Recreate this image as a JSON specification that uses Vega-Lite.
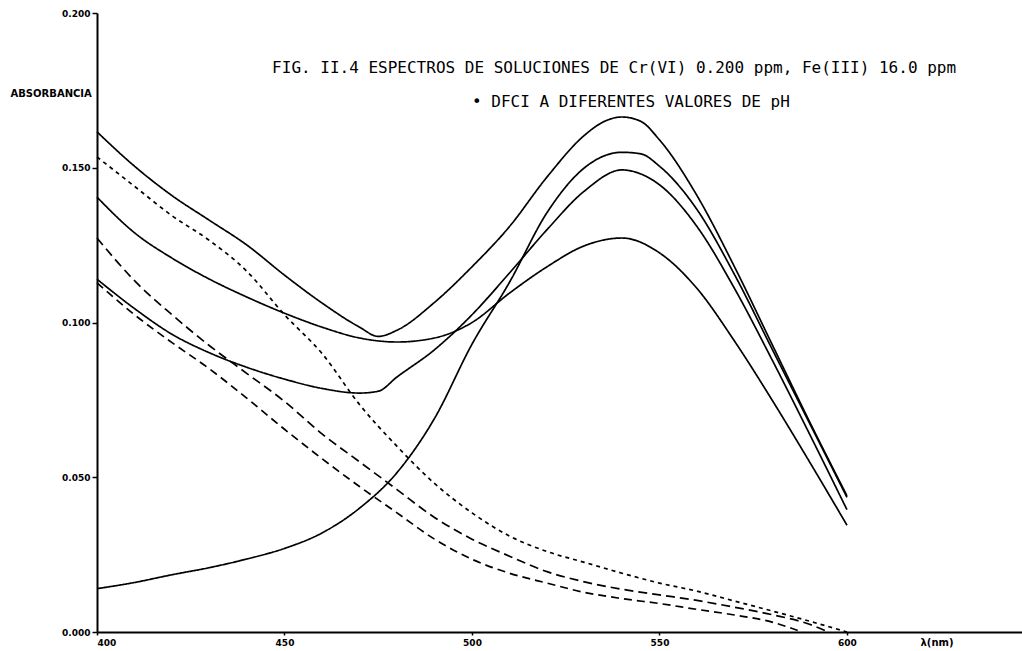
{
  "$schema": "https://vega.github.io/schema/vega-lite/v6.json",
  "width": 925,
  "height": 619,
  "autosize": {"type": "none"},
  "padding": {"left": 97, "top": 13, "right": 0, "bottom": 19},
  "background": "white",
  "config": {
    "view": {"stroke": null},
    "axis": {
      "domainColor": "black",
      "domainWidth": 2,
      "tickColor": "black",
      "tickWidth": 1.5,
      "grid": false,
      "labelFont": "DejaVu Sans",
      "labelFontWeight": "bold",
      "labelFontSize": 9,
      "labelColor": "black",
      "titleFont": "DejaVu Sans",
      "titleFontWeight": "bold",
      "titleColor": "black"
    }
  },
  "datasets": {
    "spectra": [
      {"s":"A","nm":400,"abs":0.1616},{"s":"A","nm":410,"abs":0.1505},{"s":"A","nm":420,"abs":0.1410},{"s":"A","nm":430,"abs":0.1330},{"s":"A","nm":440,"abs":0.1250},{"s":"A","nm":450,"abs":0.1153},{"s":"A","nm":460,"abs":0.1063},{"s":"A","nm":470,"abs":0.0985},{"s":"A","nm":475,"abs":0.0955},{"s":"A","nm":480,"abs":0.0975},{"s":"A","nm":490,"abs":0.1065},{"s":"A","nm":500,"abs":0.1180},{"s":"A","nm":510,"abs":0.1310},{"s":"A","nm":520,"abs":0.1470},{"s":"A","nm":530,"abs":0.1605},{"s":"A","nm":535,"abs":0.1648},{"s":"A","nm":540,"abs":0.1664},{"s":"A","nm":545,"abs":0.1650},{"s":"A","nm":550,"abs":0.1590},{"s":"A","nm":560,"abs":0.1410},{"s":"A","nm":570,"abs":0.1180},{"s":"A","nm":580,"abs":0.0930},{"s":"A","nm":590,"abs":0.0680},{"s":"A","nm":600,"abs":0.0440},
      {"s":"B","nm":400,"abs":0.1405},{"s":"B","nm":410,"abs":0.1290},{"s":"B","nm":420,"abs":0.1208},{"s":"B","nm":430,"abs":0.1140},{"s":"B","nm":440,"abs":0.1082},{"s":"B","nm":450,"abs":0.1030},{"s":"B","nm":460,"abs":0.0985},{"s":"B","nm":470,"abs":0.0950},{"s":"B","nm":480,"abs":0.0937},{"s":"B","nm":490,"abs":0.0950},{"s":"B","nm":500,"abs":0.1000},{"s":"B","nm":510,"abs":0.1095},{"s":"B","nm":520,"abs":0.1180},{"s":"B","nm":530,"abs":0.1248},{"s":"B","nm":540,"abs":0.1273},{"s":"B","nm":550,"abs":0.1225},{"s":"B","nm":560,"abs":0.1110},{"s":"B","nm":570,"abs":0.0940},{"s":"B","nm":580,"abs":0.0750},{"s":"B","nm":590,"abs":0.0550},{"s":"B","nm":600,"abs":0.0345},
      {"s":"C","nm":400,"abs":0.1140},{"s":"C","nm":410,"abs":0.1045},{"s":"C","nm":420,"abs":0.0962},{"s":"C","nm":430,"abs":0.0902},{"s":"C","nm":440,"abs":0.0855},{"s":"C","nm":450,"abs":0.0817},{"s":"C","nm":460,"abs":0.0787},{"s":"C","nm":470,"abs":0.0772},{"s":"C","nm":475,"abs":0.0778},{"s":"C","nm":480,"abs":0.0824},{"s":"C","nm":490,"abs":0.0912},{"s":"C","nm":500,"abs":0.1025},{"s":"C","nm":510,"abs":0.1160},{"s":"C","nm":520,"abs":0.1300},{"s":"C","nm":530,"abs":0.1425},{"s":"C","nm":540,"abs":0.1493},{"s":"C","nm":545,"abs":0.1480},{"s":"C","nm":550,"abs":0.1445},{"s":"C","nm":560,"abs":0.1310},{"s":"C","nm":570,"abs":0.1110},{"s":"C","nm":580,"abs":0.0880},{"s":"C","nm":590,"abs":0.0640},{"s":"C","nm":600,"abs":0.0395},
      {"s":"D","nm":400,"abs":0.0140},{"s":"D","nm":410,"abs":0.0160},{"s":"D","nm":420,"abs":0.0185},{"s":"D","nm":430,"abs":0.0208},{"s":"D","nm":440,"abs":0.0236},{"s":"D","nm":450,"abs":0.0270},{"s":"D","nm":460,"abs":0.0320},{"s":"D","nm":470,"abs":0.0400},{"s":"D","nm":480,"abs":0.0515},{"s":"D","nm":490,"abs":0.0690},{"s":"D","nm":500,"abs":0.0930},{"s":"D","nm":510,"abs":0.1130},{"s":"D","nm":520,"abs":0.1355},{"s":"D","nm":530,"abs":0.1500},{"s":"D","nm":540,"abs":0.1550},{"s":"D","nm":545,"abs":0.1545},{"s":"D","nm":550,"abs":0.1505},{"s":"D","nm":560,"abs":0.1365},{"s":"D","nm":570,"abs":0.1155},{"s":"D","nm":580,"abs":0.0915},{"s":"D","nm":590,"abs":0.0675},{"s":"D","nm":600,"abs":0.0435},
      {"s":"E","nm":400,"abs":0.1535},{"s":"E","nm":410,"abs":0.1440},{"s":"E","nm":420,"abs":0.1345},{"s":"E","nm":430,"abs":0.1265},{"s":"E","nm":440,"abs":0.1165},{"s":"E","nm":450,"abs":0.1025},{"s":"E","nm":460,"abs":0.0900},{"s":"E","nm":470,"abs":0.0735},{"s":"E","nm":480,"abs":0.0600},{"s":"E","nm":490,"abs":0.0480},{"s":"E","nm":500,"abs":0.0385},{"s":"E","nm":510,"abs":0.0310},{"s":"E","nm":520,"abs":0.0260},{"s":"E","nm":530,"abs":0.0225},{"s":"E","nm":540,"abs":0.0190},{"s":"E","nm":550,"abs":0.0158},{"s":"E","nm":560,"abs":0.0132},{"s":"E","nm":570,"abs":0.0100},{"s":"E","nm":580,"abs":0.0068},{"s":"E","nm":590,"abs":0.0035},{"s":"E","nm":600,"abs":0.0000},
      {"s":"F","nm":400,"abs":0.1273},{"s":"F","nm":410,"abs":0.1135},{"s":"F","nm":420,"abs":0.1025},{"s":"F","nm":430,"abs":0.0925},{"s":"F","nm":440,"abs":0.0835},{"s":"F","nm":450,"abs":0.0745},{"s":"F","nm":460,"abs":0.0640},{"s":"F","nm":470,"abs":0.0550},{"s":"F","nm":480,"abs":0.0460},{"s":"F","nm":490,"abs":0.0370},{"s":"F","nm":500,"abs":0.0300},{"s":"F","nm":510,"abs":0.0245},{"s":"F","nm":520,"abs":0.0195},{"s":"F","nm":530,"abs":0.0162},{"s":"F","nm":540,"abs":0.0138},{"s":"F","nm":550,"abs":0.0120},{"s":"F","nm":560,"abs":0.0102},{"s":"F","nm":570,"abs":0.0080},{"s":"F","nm":580,"abs":0.0056},{"s":"F","nm":590,"abs":0.0025},{"s":"F","nm":595,"abs":0.0000},
      {"s":"G","nm":400,"abs":0.1128},{"s":"G","nm":410,"abs":0.1025},{"s":"G","nm":420,"abs":0.0935},{"s":"G","nm":430,"abs":0.0850},{"s":"G","nm":440,"abs":0.0755},{"s":"G","nm":450,"abs":0.0655},{"s":"G","nm":460,"abs":0.0560},{"s":"G","nm":470,"abs":0.0470},{"s":"G","nm":480,"abs":0.0385},{"s":"G","nm":490,"abs":0.0300},{"s":"G","nm":500,"abs":0.0235},{"s":"G","nm":510,"abs":0.0190},{"s":"G","nm":520,"abs":0.0158},{"s":"G","nm":530,"abs":0.0128},{"s":"G","nm":540,"abs":0.0108},{"s":"G","nm":550,"abs":0.0092},{"s":"G","nm":560,"abs":0.0073},{"s":"G","nm":570,"abs":0.0055},{"s":"G","nm":580,"abs":0.0032},{"s":"G","nm":588,"abs":0.0000}
    ]
  },
  "layer": [
    {
      "data": {"name": "spectra"},
      "mark": {"type": "line", "color": "black", "strokeWidth": 1.7, "interpolate": "monotone"},
      "encoding": {
        "x": {
          "field": "nm", "type": "quantitative",
          "scale": {"domain": [400, 646.67], "nice": false, "zero": false},
          "axis": {
            "values": [400, 450, 500, 550, 600],
            "format": "d",
            "tickSize": 3,
            "labelPadding": 3,
            "title": "λ(nm)",
            "titleFontSize": 10,
            "titleAlign": "left",
            "titleAnchor": "start",
            "titleBaseline": "middle",
            "titleX": 823,
            "titleY": 10
          }
        },
        "y": {
          "field": "abs", "type": "quantitative",
          "scale": {"domain": [0, 0.2], "nice": false},
          "axis": {
            "values": [0, 0.05, 0.1, 0.15, 0.2],
            "format": ".3f",
            "tickSize": 5,
            "labelPadding": 2,
            "labelBaseline": "middle",
            "title": "ABSORBANCIA",
            "titleFontSize": 10,
            "titleAngle": 0,
            "titleAlign": "left",
            "titleAnchor": "start",
            "titleBaseline": "middle",
            "titleX": -87,
            "titleY": 80
          }
        },
        "detail": {"field": "s"},
        "strokeDash": {
          "field": "s", "type": "nominal",
          "scale": {"domain": ["A","B","C","D","E","F","G"], "range": [[1,0],[1,0],[1,0],[1,0],[4,4],[9,5],[8,5]]},
          "legend": null
        }
      }
    },
    {
      "data": {"values": [{}]},
      "mark": {"type": "text", "text": "FIG. II.4 ESPECTROS DE SOLUCIONES DE Cr(VI) 0.200 ppm, Fe(III) 16.0 ppm", "font": "DejaVu Sans Mono", "fontSize": 16, "align": "left", "baseline": "middle", "color": "black"},
      "encoding": {"x": {"datum": 446.7, "type": "quantitative"}, "y": {"datum": 0.1822, "type": "quantitative"}}
    },
    {
      "data": {"values": [{}]},
      "mark": {"type": "text", "text": "•  DFCI A DIFERENTES VALORES DE pH", "font": "DejaVu Sans Mono", "fontSize": 16, "align": "left", "baseline": "middle", "color": "black"},
      "encoding": {"x": {"datum": 500, "type": "quantitative"}, "y": {"datum": 0.1712, "type": "quantitative"}}
    }
  ]
}
